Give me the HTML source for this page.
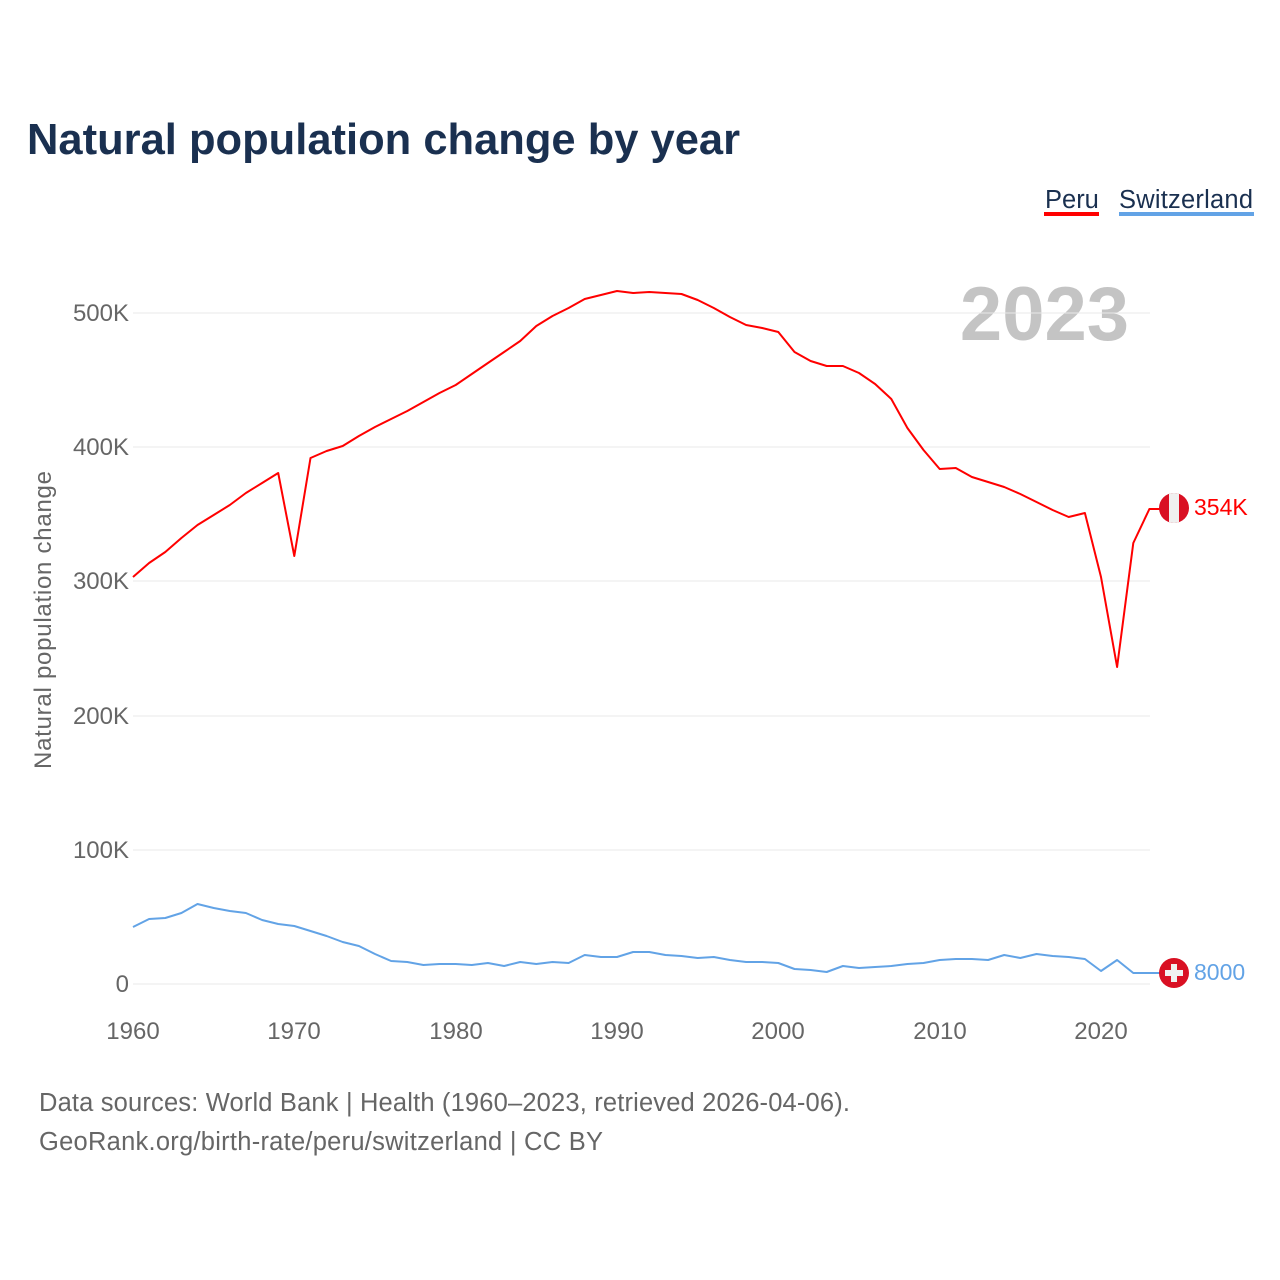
<!DOCTYPE html>
<html><head><meta charset="utf-8"><style>
body{margin:0;background:#fff;}
svg{display:block;font-family:"Liberation Sans",sans-serif;}
</style></head><body>
<svg width="1280" height="1280" viewBox="0 0 1280 1280">
<text x="27" y="154" font-size="43.5" font-weight="bold" fill="#1a3050">Natural population change by year</text>
<text x="1045" y="208" font-size="25.5" fill="#1a3050">Peru</text>
<rect x="1044" y="212" width="55" height="4" fill="#ff0000"/>
<text x="1119" y="208" font-size="25.5" fill="#1a3050" textLength="134">Switzerland</text>
<rect x="1119" y="212" width="135" height="4" fill="#62a3e6"/>
<text x="1129" y="340" font-size="76" font-weight="bold" fill="#c4c4c4" text-anchor="end">2023</text>
<g stroke="#e8e8e8" stroke-width="1">
<line x1="133" y1="313" x2="1150" y2="313"/><line x1="133" y1="447" x2="1150" y2="447"/>
<line x1="133" y1="581" x2="1150" y2="581"/><line x1="133" y1="716" x2="1150" y2="716"/>
<line x1="133" y1="850" x2="1150" y2="850"/><line x1="133" y1="984" x2="1150" y2="984"/>
</g>
<g font-size="24" fill="#666" text-anchor="end">
<text x="129" y="321">500K</text><text x="129" y="455">400K</text><text x="129" y="589">300K</text>
<text x="129" y="724">200K</text><text x="129" y="858">100K</text><text x="129" y="992">0</text>
</g>
<g font-size="24" fill="#666" text-anchor="middle">
<text x="133" y="1039">1960</text><text x="294" y="1039">1970</text><text x="456" y="1039">1980</text>
<text x="617" y="1039">1990</text><text x="778" y="1039">2000</text><text x="940" y="1039">2010</text><text x="1101" y="1039">2020</text>
</g>
<text transform="translate(51,620) rotate(-90)" font-size="24" fill="#666" text-anchor="middle" textLength="298">Natural population change</text>
<polyline fill="none" stroke="#ff0000" stroke-width="2" stroke-linejoin="round" points="133,577 149.1,563 165.3,552 181.4,538 197.5,525 213.7,515 229.8,505 245.9,493 262.1,483 278.2,473 294.3,556 310.5,458 326.6,451 342.7,446 358.9,436 375,427 391.1,419 407.3,411 423.4,402 439.5,393 455.7,385 471.8,374 487.9,363 504.1,352 520.2,341 536.3,326 552.5,316 568.6,308 584.7,299 600.9,295 617,291 633.1,293 649.3,292 665.4,293 681.5,294 697.7,300 713.8,308 729.9,317 746.1,325 762.2,328 778.3,332 794.5,352 810.6,361 826.7,366 842.9,366 859,373 875.1,384 891.3,399 907.4,428 923.5,450 939.7,469 955.8,468 971.9,477 988.1,482 1004.2,487 1020.3,494 1036.5,502 1052.6,510 1068.7,517 1084.9,513 1101,577 1117.1,667 1133.3,543 1149.4,509 1160,509"/>
<polyline fill="none" stroke="#62a3e6" stroke-width="2" stroke-linejoin="round" points="133,927 149.1,919 165.3,918 181.4,913 197.5,904 213.7,908 229.8,911 245.9,913 262.1,920 278.2,924 294.3,926 310.5,931 326.6,936 342.7,942 358.9,946 375,954 391.1,961 407.3,962 423.4,965 439.5,964 455.7,964 471.8,965 487.9,963 504.1,966 520.2,962 536.3,964 552.5,962 568.6,963 584.7,955 600.9,957 617,957 633.1,952 649.3,952 665.4,955 681.5,956 697.7,958 713.8,957 729.9,960 746.1,962 762.2,962 778.3,963 794.5,969 810.6,970 826.7,972 842.9,966 859,968 875.1,967 891.3,966 907.4,964 923.5,963 939.7,960 955.8,959 971.9,959 988.1,960 1004.2,955 1020.3,958 1036.5,954 1052.6,956 1068.7,957 1084.9,959 1101,971 1117.1,960 1133.3,973 1149.4,973 1160,973"/>
<defs><clipPath id="c1"><circle cx="1174" cy="508" r="15"/></clipPath></defs>
<g clip-path="url(#c1)"><rect x="1159" y="493" width="30" height="30" fill="#d91023"/><rect x="1169" y="493" width="10" height="30" fill="#f0f0f0"/></g>
<circle cx="1174" cy="973" r="15" fill="#d91023"/>
<rect x="1171" y="964" width="6" height="18" fill="#f0f0f0"/><rect x="1165" y="970" width="18" height="6" fill="#f0f0f0"/>
<text x="1194" y="515" font-size="23" fill="#ff0000">354K</text>
<text x="1194" y="980" font-size="23" fill="#62a3e6">8000</text>
<text x="39" y="1111" font-size="25.5" fill="#666" textLength="811">Data sources: World Bank | Health (1960–2023, retrieved 2026-04-06).</text>
<text x="39" y="1150" font-size="25.5" fill="#666" textLength="564">GeoRank.org/birth-rate/peru/switzerland | CC BY</text>
</svg>
</body></html>
